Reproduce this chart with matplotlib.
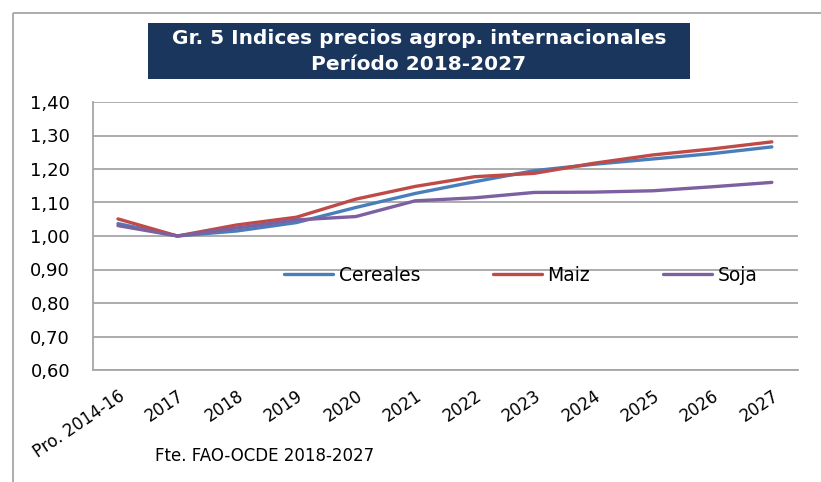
import matplotlib
matplotlib.use("Agg")
import matplotlib.pyplot as plt
from matplotlib.patches import Rectangle
from matplotlib.lines import Line2D
from matplotlib.transforms import ScaledTranslation

categories = ["Pro. 2014-16", "2017", "2018", "2019", "2020", "2021", "2022",
              "2023", "2024", "2025", "2026", "2027"]
cereales = [1.037, 1.000, 1.015, 1.040, 1.085, 1.127, 1.162, 1.195, 1.214, 1.230, 1.246, 1.266]
maiz = [1.051, 1.000, 1.033, 1.056, 1.110, 1.148, 1.177, 1.187, 1.217, 1.242, 1.260, 1.281]
soja = [1.031, 1.000, 1.024, 1.048, 1.058, 1.105, 1.114, 1.130, 1.131, 1.135, 1.147, 1.160]
yticks = [0.60, 0.70, 0.80, 0.90, 1.00, 1.10, 1.20, 1.30, 1.40]

W, H = 821, 482
fig = plt.figure(figsize=(W / 100, H / 100), dpi=100)
fig.patch.set_facecolor("white")
fig.patch.set_edgecolor("white")
fig.patch.set_linewidth(0)

ax = fig.add_axes([93 / W, 1 - 370 / H, (798 - 93) / W, (370 - 102) / H])
x = list(range(len(categories)))
ax.plot(x, cereales, color="#4a7ebb", lw=2.4, label="Cereales", solid_capstyle="round")
ax.plot(x, maiz, color="#be4b48", lw=2.4, label="Maiz", solid_capstyle="round")
ax.plot(x, soja, color="#7d60a0", lw=2.4, label="Soja", solid_capstyle="round")

ax.set_ylim(0.60, 1.40)
ax.set_xlim(-0.42, 11.44)
ax.set_yticks(yticks)
ax.set_yticklabels([f"{v:.2f}".replace(".", ",") for v in yticks],
                   fontsize=13, family="DejaVu Sans")
ax.set_xticks(x)
ax.set_xticklabels(categories, rotation=34, ha="right", va="top", rotation_mode="anchor",
                   fontsize=12, family="DejaVu Sans")
offset = ScaledTranslation(7 / 100, 0, fig.dpi_scale_trans)
for lab in ax.get_xticklabels():
    lab.set_transform(lab.get_transform() + offset)
ax.tick_params(axis="y", length=0, pad=16.5)
ax.tick_params(axis="x", length=0, pad=12)
ax.grid(axis="y", color="#a6a6a6", lw=1.3)
ax.set_axisbelow(True)
for s in ["top", "right"]:
    ax.spines[s].set_visible(False)
for s in ["left", "bottom"]:
    ax.spines[s].set_color("#a6a6a6")
    ax.spines[s].set_linewidth(1.3)

leg = ax.legend(ncol=3, loc="center", bbox_to_anchor=(0.607, 0.354), frameon=False,
                handlelength=2.6, columnspacing=3.9, handletextpad=0.3,
                borderpad=0, borderaxespad=0,
                prop={"family": "DejaVu Sans", "size": 13.5})

# outer frame (left and top edges visible)
fig.add_artist(Line2D([13 / W, 13 / W], [-0.01, 1 - 13 / H], transform=fig.transFigure,
                      color="#a6a6a6", lw=1.3, solid_capstyle="butt"))
fig.add_artist(Line2D([13 / W, 1.01], [1 - 13 / H, 1 - 13 / H], transform=fig.transFigure,
                      color="#a6a6a6", lw=1.3, solid_capstyle="butt"))

# title box
fig.add_artist(Rectangle((148 / W, 1 - 79 / H), (690 - 148) / W, (79 - 23) / H,
                         transform=fig.transFigure, facecolor="#1b365d", edgecolor="none"))
fig.text(419 / W, 1 - 39 / H, "Gr. 5 Indices precios agrop. internacionales",
         ha="center", va="center", color="white", fontsize=14.5, fontweight="bold",
         family="DejaVu Sans")
fig.text(419 / W, 1 - 64 / H, "Período 2018-2027",
         ha="center", va="center", color="white", fontsize=14.5, fontweight="bold",
         family="DejaVu Sans")

fig.text(155 / W, 1 - 456 / H, "Fte. FAO-OCDE 2018-2027", ha="left", va="center",
         fontsize=12, family="DejaVu Sans")

fig.savefig("out.png", dpi=100)
